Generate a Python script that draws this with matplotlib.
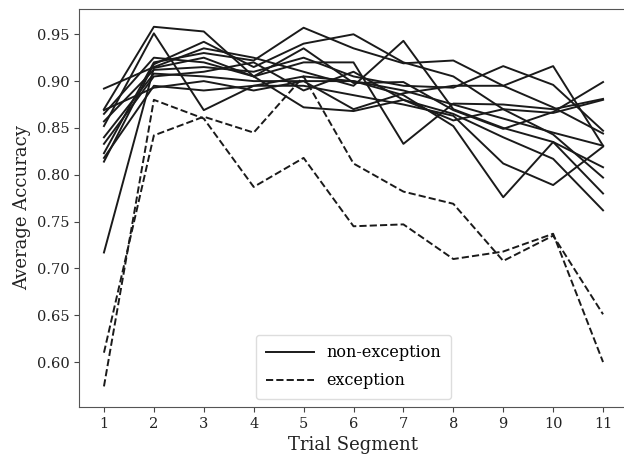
import matplotlib
matplotlib.use("Agg")
import matplotlib.pyplot as plt

segments = list(range(1, 12))

# average accuracy per trial segment, non-exception items
non_exception = [
    [0.870, 0.958, 0.953, 0.905, 0.872, 0.868, 0.880, 0.858, 0.870, 0.866, 0.880],
    [0.852, 0.951, 0.869, 0.895, 0.905, 0.900, 0.890, 0.875, 0.860, 0.845, 0.831],
    [0.823, 0.920, 0.930, 0.922, 0.957, 0.935, 0.919, 0.922, 0.895, 0.872, 0.844],
    [0.814, 0.918, 0.942, 0.915, 0.940, 0.950, 0.920, 0.905, 0.870, 0.843, 0.797],
    [0.892, 0.915, 0.935, 0.925, 0.910, 0.895, 0.943, 0.870, 0.850, 0.835, 0.808],
    [0.865, 0.925, 0.920, 0.905, 0.920, 0.920, 0.833, 0.876, 0.875, 0.870, 0.881],
    [0.857, 0.912, 0.915, 0.910, 0.925, 0.905, 0.895, 0.893, 0.916, 0.896, 0.847],
    [0.840, 0.908, 0.905, 0.900, 0.900, 0.900, 0.885, 0.852, 0.776, 0.835, 0.780],
    [0.833, 0.905, 0.910, 0.920, 0.890, 0.910, 0.880, 0.865, 0.840, 0.817, 0.762],
    [0.818, 0.895, 0.890, 0.895, 0.895, 0.885, 0.875, 0.863, 0.812, 0.789, 0.830],
    [0.869, 0.893, 0.900, 0.890, 0.900, 0.870, 0.887, 0.895, 0.895, 0.916, 0.831],
    [0.717, 0.914, 0.925, 0.905, 0.935, 0.898, 0.899, 0.869, 0.849, 0.867, 0.899],
]

# exception items
exception = [
    [0.610, 0.842, 0.862, 0.845, 0.905, 0.812, 0.782, 0.769, 0.708, 0.735, 0.651],
    [0.574, 0.880, 0.860, 0.787, 0.818, 0.745, 0.747, 0.710, 0.718, 0.737, 0.600],
]

plt.rcParams['font.family'] = ['DejaVu Serif']

fig = plt.figure(figsize=(6.24, 4.61), dpi=100)
ax = fig.add_axes([79 / 624, (461 - 407) / 461, 549 / 624, 398 / 461])

for i in range(len(non_exception)):
    ax.plot(segments, non_exception[i], color='#1a1a1a', lw=1.4,
            label='non-exception' if i == 0 else None)
for i in range(len(exception)):
    ax.plot(segments, exception[i], color='#1a1a1a', lw=1.4, linestyle='--',
            label='exception' if i == 0 else None)

ax.set_xlim(0.5, 11.5)
ax.set_ylim(0.552, 0.977)
ax.set_xticks(segments)
ax.set_yticks([0.60, 0.65, 0.70, 0.75, 0.80, 0.85, 0.90, 0.95])
ax.set_yticklabels([f"{v:.2f}" for v in ax.get_yticks()])
ax.tick_params(labelsize=10.5, color='#444444', labelcolor='#222222')
for s in ax.spines.values():
    s.set_color('#555555')
ax.spines['right'].set_visible(False)

ax.set_xlabel("Trial Segment", fontsize=13, color='#222222')
ax.set_ylabel("Average Accuracy", fontsize=13, color='#222222')

leg = ax.legend(loc='lower center', fontsize=11.5, handlelength=3,
                borderpad=0.6, labelspacing=0.7, framealpha=1)
leg.get_frame().set_edgecolor('#dddddd')

fig.savefig("out.png", dpi=100)
